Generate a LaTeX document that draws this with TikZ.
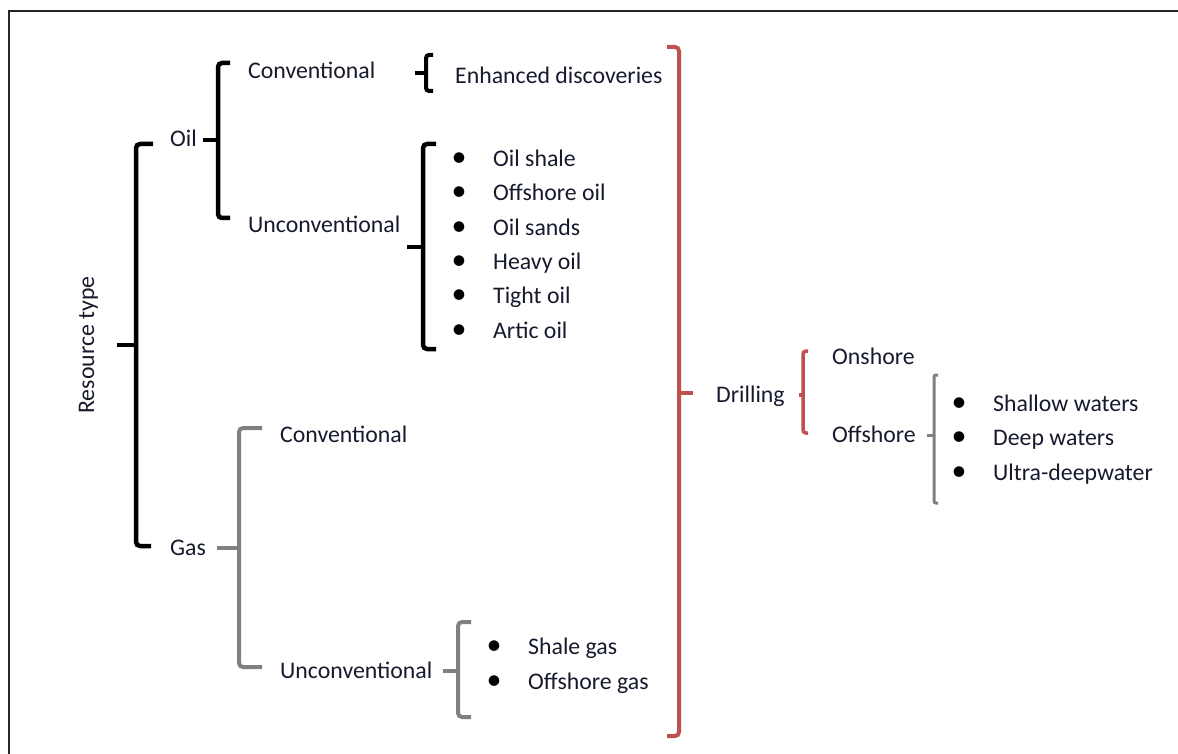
\documentclass[tikz,border=0pt]{standalone}
\usepackage{fontspec}
\setmainfont{Carlito}
\definecolor{ink}{RGB}{22,26,44}
\definecolor{brick}{RGB}{192,80,77}
\definecolor{slate}{RGB}{128,128,128}
\tikzset{
  every node/.style={font=\fontsize{23.8}{28}\selectfont, text=ink, inner sep=0pt,
    text height=15pt, text depth=1pt, anchor=west},
  listdot/.style={anchor=center, font=\fontsize{30}{30}\selectfont, text=black},
  blackbrace/.style={line width=4.5pt, black, rounded corners=4pt},
  greybrace/.style={line width=4pt, slate, rounded corners=4pt},
  redbrace/.style={line width=4pt, brick, rounded corners=4pt},
}

\begin{document}
\begin{tikzpicture}[x=1pt,y=-1pt]
  \useasboundingbox (0,0) rectangle (1178,754);
  \draw[line width=2pt, black!85] (9,754) -- (9,11) -- (1178,11);

  % resource type
  \node[rotate=90, anchor=center] (restype) at (87,345) {Resource type};
  \coordinate (rootbr) at (136,345);
  \draw[blackbrace] (153,144) -- (136,144) -- (136,546) -- (151,546);
  \draw[blackbrace] (restype.south) ++(22,0) -- (rootbr);

  % oil
  \node (oil) at (170,140) {Oil};
  \coordinate (oilbr) at (218,141);
  \draw[blackbrace] (230,63) -- (218,63) -- (218,218) -- (230,218);
  \draw[blackbrace] ([xshift=6pt]oil.east) -- (oil.east -| oilbr);
  \node (oilconv) at (248,72) {Conventional};
  \node (oilunconv) at (248,226) {Unconventional};

  \draw[blackbrace, line width=4pt, rounded corners=3pt] (433,55) -- (426,55) -- (426,91) -- (433,91);
  \draw[blackbrace, line width=4pt] (415,73) -- (426,73);
  \node (enh) at (455,77) {Enhanced discoveries};

  \draw[blackbrace] (436,144) -- (423,144) -- (423,349) -- (436,349);
  \draw[blackbrace] (407,247) -- (423,247);
  \foreach \txt [count=\i] in {Oil shale, Offshore oil, Oil sands, Heavy oil, Tight oil, Artic oil} {
    \node[listdot] (oildot\i) at (459,{125.2+34.3*\i}) {\textbullet};
    \node (oilitem\i) at (493,{125.2+34.3*\i}) {\txt};
  }

  % gas
  \node (gas) at (170,548) {Gas};
  \coordinate (gasbr) at (239,547);
  \draw[greybrace] (262,428) -- (239,428) -- (239,667) -- (262,667);
  \draw[greybrace] ([xshift=11pt]gas.east) -- (gas.east -| gasbr);
  \node (gasconv) at (280,435) {Conventional};
  \node (gasunconv) at (280,671) {Unconventional};

  \coordinate (gaslistbr) at (458,671);
  \draw[greybrace] (471,622) -- (458,622) -- (458,717) -- (471,717);
  \draw[greybrace] ([xshift=10pt]gasunconv.east) -- (gasunconv.east -| gaslistbr);
  \foreach \txt [count=\i] in {Shale gas, Offshore gas} {
    \node[listdot] (gasdot\i) at (494,{612+35*\i}) {\textbullet};
    \node (gasitem\i) at (528,{612+35*\i}) {\txt};
  }

  % drilling
  \coordinate (drillbr) at (679,393);
  \draw[redbrace] (667,47) -- (679,47) -- (679,736) -- (667,736);
  \node (drill) at (716,395) {Drilling};
  \draw[redbrace] (drillbr) -- ([xshift=-23pt]drill.west |- drillbr);

  \coordinate (wellbr) at (803,393);
  \draw[redbrace, line width=3.5pt, rounded corners=3pt] (808,351) -- (803,351) -- (803,433) -- (808,433);
  \draw[redbrace, line width=3.5pt] ([xshift=14pt]drill.east) -- (drill.east -| wellbr);
  \node (onshore) at (832,357) {Onshore};
  \node (offshore) at (832,435) {Offshore};

  \coordinate (seabr) at (934,438);
  \draw[greybrace, line width=3pt, rounded corners=2pt] (938,375) -- (934,375) -- (934,503) -- (938,503);
  \draw[greybrace, line width=3pt] ([xshift=11pt]offshore.east) -- (offshore.east -| seabr);
  \foreach \txt [count=\i] in {Shallow waters, Deep waters, Ultra-deepwater} {
    \node[listdot] (seadot\i) at (959,{369.5+34.5*\i}) {\textbullet};
    \node (seaitem\i) at (993,{369.5+34.5*\i}) {\txt};
  }
\end{tikzpicture}
\end{document}
